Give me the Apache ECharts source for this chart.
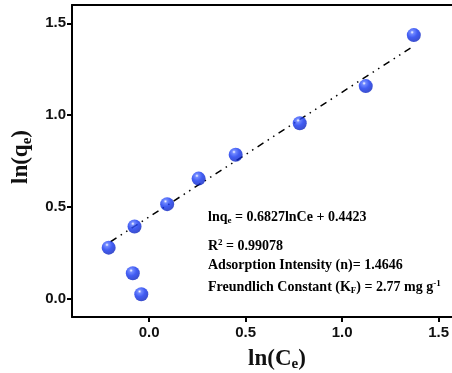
<!DOCTYPE html>
<html>
<head>
<meta charset="utf-8">
<script src="https://cdn.jsdelivr.net/npm/echarts@6/dist/echarts.min.js"></script>
<style>
  html, body { margin: 0; padding: 0; background: #fff; }
  #chart { width: 452px; height: 373px; }
</style>
</head>
<body>
<div id="chart"></div>
<script>
// measured points, ln(Ce) vs ln(qe)
const lnCe = [1.371, 1.122, 0.780, 0.448, 0.256, 0.093, -0.076, -0.210, -0.085, -0.041];
const lnQe = [1.436, 1.158, 0.956, 0.784, 0.654, 0.515, 0.393, 0.278, 0.138, 0.024];

// fitted line ends
const fitX = [-0.2, 1.36];
const fitY = [0.31, 1.37];

const xTicks = [0, 0.5, 1.0, 1.5];
const yTicks = [0, 0.5, 1.0, 1.5];

const notes = [
  '{b|lnq}{s|e}{b| = 0.6827lnCe + 0.4423}',
  '{b|R}{p|2}{b| = 0.99078}',
  '{b|Adsorption Intensity (n)= 1.4646}',
  '{b|Freundlich Constant (K}{s|F}{b|) = 2.77 mg g}{p|-1}'
];
const noteY = [219, 247, 267, 288];

const chart = echarts.init(document.getElementById('chart'));

const serif = '"Liberation Serif", "Times New Roman", serif';
const sans = '"Liberation Sans", Arial, sans-serif';

const richNote = {
  b: { fontFamily: serif, fontWeight: 'bold', fontSize: 14, color: '#1c1c30' },
  s: { fontFamily: serif, fontWeight: 'bold', fontSize: 9, color: '#1c1c30', verticalAlign: 'bottom', padding: [7, 0, 0, 0] },
  p: { fontFamily: serif, fontWeight: 'bold', fontSize: 9, color: '#1c1c30', verticalAlign: 'top', padding: [0, 0, 7, 0] }
};

const nameRich = {
  a: { fontFamily: serif, fontWeight: 'bold', fontSize: 23, color: '#111' },
  s: { fontFamily: serif, fontWeight: 'bold', fontSize: 15, color: '#111', verticalAlign: 'bottom', padding: [11, 0, 0, 0] }
};

const ballColor = new echarts.graphic.RadialGradient(0.38, 0.3, 0.75, [
  { offset: 0, color: '#ffffff' },
  { offset: 0.17, color: '#4d6bff' },
  { offset: 0.5, color: '#1234f0' },
  { offset: 1, color: '#0a20b8' }
]);

const option = {
  animation: false,
  grid: { left: 72, right: -6, top: 5, bottom: 56, outerBoundsMode: 'none' },
  xAxis: [
    {
      type: 'value',
      min: -0.4,
      max: 1.6,
      splitLine: { show: false },
      axisLine: { onZero: false, lineStyle: { color: '#000', width: 2 } },
      axisTick: { customValues: xTicks, length: 5, lineStyle: { color: '#000', width: 2 } },
      axisLabel: {
        customValues: xTicks,
        formatter: (v) => v.toFixed(1),
        fontFamily: sans, fontWeight: 'bold', fontSize: 15, color: '#111', margin: 8
      },
      name: '{a|ln(C}{s|e}{a|)}',
      nameLocation: 'middle',
      nameGap: 29,
      nameTextStyle: { padding: [0, 0, 0, 24], rich: nameRich }
    },
    {
      type: 'value',
      position: 'top',
      min: -0.4,
      max: 1.6,
      splitLine: { show: false },
      axisLine: { show: true, onZero: false, lineStyle: { color: '#000', width: 2 } },
      axisTick: { show: false },
      axisLabel: { show: false }
    }
  ],
  yAxis: {
    type: 'value',
    min: -0.1,
    max: 1.6,
    splitLine: { show: false },
    axisLine: { show: true, onZero: false, lineStyle: { color: '#000', width: 2 } },
    axisTick: { customValues: yTicks, length: 5, lineStyle: { color: '#000', width: 2 } },
    axisLabel: {
      customValues: yTicks,
      formatter: (v) => v.toFixed(1),
      fontFamily: sans, fontWeight: 'bold', fontSize: 15, color: '#111', margin: 6
    },
    name: '{a|ln(q}{s|e}{a|)}',
    nameLocation: 'middle',
    nameGap: 29,
    nameRotate: 90,
    nameTextStyle: { padding: [0, 0, 0, 8], rich: nameRich }
  },
  series: [
    {
      type: 'line',
      data: fitX.map((x, i) => [x, fitY[i]]),
      symbol: 'none',
      lineStyle: { color: '#000', width: 1.5, type: [7, 5, 1.5, 5, 1.5, 5] },
      z: 1
    },
    {
      type: 'scatter',
      data: lnCe.map((x, i) => [x, lnQe[i]]),
      symbol: 'circle',
      symbolSize: 14,
      itemStyle: { color: ballColor },
      z: 2
    }
  ],
  graphic: notes.map((t, i) => ({
    type: 'text',
    left: 208,
    top: noteY[i] - 9,
    style: { text: t, rich: richNote }
  }))
};

chart.setOption(option);
</script>
</body>
</html>
